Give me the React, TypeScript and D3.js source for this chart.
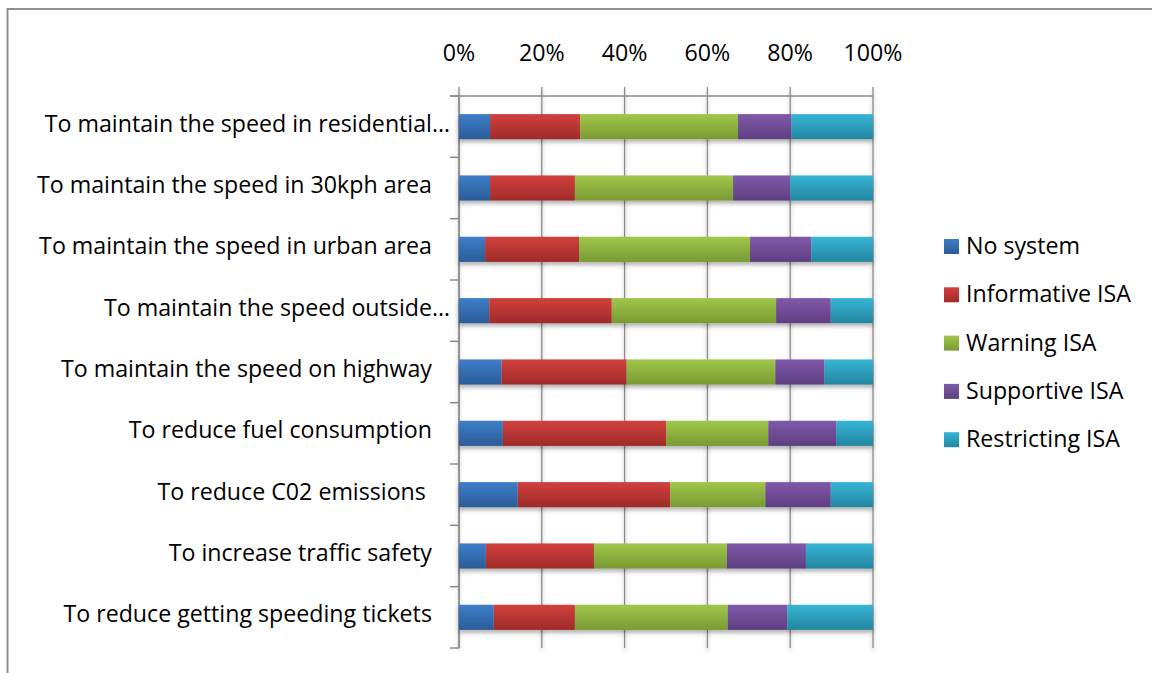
import { useEffect, useRef } from 'react';
import * as d3 from 'd3';

const categories = [
  'To maintain the speed in residential…',
  'To maintain the speed in 30kph area ',
  'To maintain the speed in urban area ',
  'To maintain the speed outside…',
  'To maintain the speed on highway ',
  'To reduce fuel consumption ',
  'To reduce C02 emissions  ',
  'To increase traffic safety ',
  'To reduce getting speeding tickets ',
];

const seriesNames = ['No system', 'Informative ISA', 'Warning ISA', 'Supportive ISA', 'Restricting ISA'];

// percentages per category
const noSystem = [7.5, 7.5, 6.3, 7.3, 10.3, 10.6, 14.2, 6.5, 8.4];
const informative = [21.8, 20.5, 22.7, 29.6, 30.2, 39.5, 36.8, 26.1, 19.6];
const warning = [38.1, 38.2, 41.3, 39.7, 35.9, 24.6, 23.0, 32.1, 36.9];
const supportive = [12.9, 13.8, 14.8, 13.2, 11.9, 16.4, 15.8, 19.1, 14.4];
const restricting = [19.7, 20.0, 14.9, 10.2, 11.7, 8.9, 10.2, 16.2, 20.7];

const tickValues = [0, 20, 40, 60, 80, 100];

const colorTop = ['#3d7ec9', '#d2403e', '#a0c74a', '#8059aa', '#36b5d7'];
const colorBottom = ['#2b5c97', '#9e2b29', '#799a33', '#5e3f80', '#23859f'];

const FONT = '"Open Sans", Lato, sans-serif';
const FONT_SIZE = 23.2;

const App = () => {
  const ref = useRef<SVGSVGElement | null>(null);

  useEffect(() => {
    if (!ref.current) return;
    const svg = d3.select(ref.current);
    svg.selectAll('*').remove();

    const width = 1152;
    const height = 673;
    svg.attr('width', width).attr('height', height);

    const rows = categories.map((c, i) => ({
      category: c,
      [seriesNames[0]]: noSystem[i],
      [seriesNames[1]]: informative[i],
      [seriesNames[2]]: warning[i],
      [seriesNames[3]]: supportive[i],
      [seriesNames[4]]: restricting[i],
    }));
    // normalise to 100%
    const stacked = d3.stack<any>().keys(seriesNames).offset(d3.stackOffsetExpand)(rows);

    const x = d3.scaleLinear().domain([0, 1]).range([459, 873]);
    const y = d3.scaleBand().domain(categories).range([96, 648]).paddingInner(0.59).paddingOuter(0.295);

    const defs = svg.append('defs');
    seriesNames.forEach((_, i) => {
      const g = defs.append('linearGradient')
        .attr('id', `grad${i}`)
        .attr('x1', 0).attr('y1', 0).attr('x2', 0).attr('y2', 1);
      g.append('stop').attr('offset', '0%').attr('stop-color', colorTop[i]);
      g.append('stop').attr('offset', '100%').attr('stop-color', colorBottom[i]);
    });
    const shadow = defs.append('filter').attr('id', 'shadow')
      .attr('x', '-5%').attr('y', '-20%').attr('width', '110%').attr('height', '160%');
    shadow.append('feDropShadow')
      .attr('dx', 0).attr('dy', 3).attr('stdDeviation', 2)
      .attr('flood-color', '#000').attr('flood-opacity', 0.3);

    // frame
    svg.append('rect')
      .attr('x', 7.5).attr('y', 9)
      .attr('width', width + 20).attr('height', height + 20)
      .attr('fill', 'none')
      .attr('stroke', '#8e8e8e')
      .attr('stroke-width', 2);

    // grid lines
    const grid = svg.append('g').attr('filter', 'url(#shadow)');
    tickValues.forEach((t) => {
      grid.append('line')
        .attr('x1', x(t / 100)).attr('x2', x(t / 100))
        .attr('y1', 87).attr('y2', 648)
        .attr('stroke', '#8a8a8a').attr('stroke-width', 1.3);
    });

    // top axis line
    svg.append('line')
      .attr('x1', 450).attr('x2', x(1))
      .attr('y1', 96).attr('y2', 96)
      .attr('stroke', '#8a8a8a').attr('stroke-width', 1.5);

    // left axis with ticks at band boundaries
    svg.append('line')
      .attr('x1', x(0)).attr('x2', x(0))
      .attr('y1', 96).attr('y2', 648)
      .attr('stroke', '#8a8a8a').attr('stroke-width', 1.5);
    const step = y.step();
    d3.range(categories.length + 1).forEach((i) => {
      const yy = 96 + i * step;
      svg.append('line')
        .attr('x1', 450).attr('x2', x(0))
        .attr('y1', yy).attr('y2', yy)
        .attr('stroke', '#8a8a8a').attr('stroke-width', 1.5);
    });

    // bars
    const barLayer = svg.append('g').attr('filter', 'url(#shadow)');
    stacked.forEach((layer, i) => {
      barLayer.append('g')
        .attr('fill', `url(#grad${i})`)
        .selectAll('rect')
        .data(layer)
        .join('rect')
        .attr('x', (d) => x(d[0]))
        .attr('y', (d) => y(d.data.category) as number)
        .attr('width', (d) => x(d[1]) - x(d[0]))
        .attr('height', y.bandwidth());
    });

    // tick labels
    svg.append('g')
      .selectAll('text')
      .data(tickValues)
      .join('text')
      .attr('x', (d) => x(d / 100))
      .attr('y', 61)
      .attr('text-anchor', 'middle')
      .attr('font-family', FONT)
      .attr('font-size', FONT_SIZE)
      .attr('fill', '#000')
      .text((d) => `${d}%`);

    // category labels
    svg.append('g')
      .selectAll('text')
      .data(categories)
      .join('text')
      .attr('x', 450)
      .attr('y', (d) => (y(d) as number) + y.bandwidth() / 2 + 5)
      .attr('text-anchor', 'end')
      .attr('font-family', FONT)
      .attr('font-size', FONT_SIZE)
      .attr('fill', '#000')
      .style('white-space', 'pre')
      .text((d) => d.endsWith(' ') ? d + '  ' : d);

    // legend
    const legend = svg.append('g');
    seriesNames.forEach((name, i) => {
      const cy = 246 + i * 48.3;
      legend.append('rect')
        .attr('x', 944).attr('y', cy - 7)
        .attr('width', 15).attr('height', 15)
        .attr('fill', `url(#grad${i})`);
      legend.append('text')
        .attr('x', 966).attr('y', cy + 8)
        .attr('font-family', FONT)
        .attr('font-size', FONT_SIZE)
        .attr('fill', '#000')
        .text(name);
    });
  }, []);

  return (
    <svg ref={ref} style={{ position: 'absolute', left: 0, top: 0 }}></svg>
  );
};

export default App;
